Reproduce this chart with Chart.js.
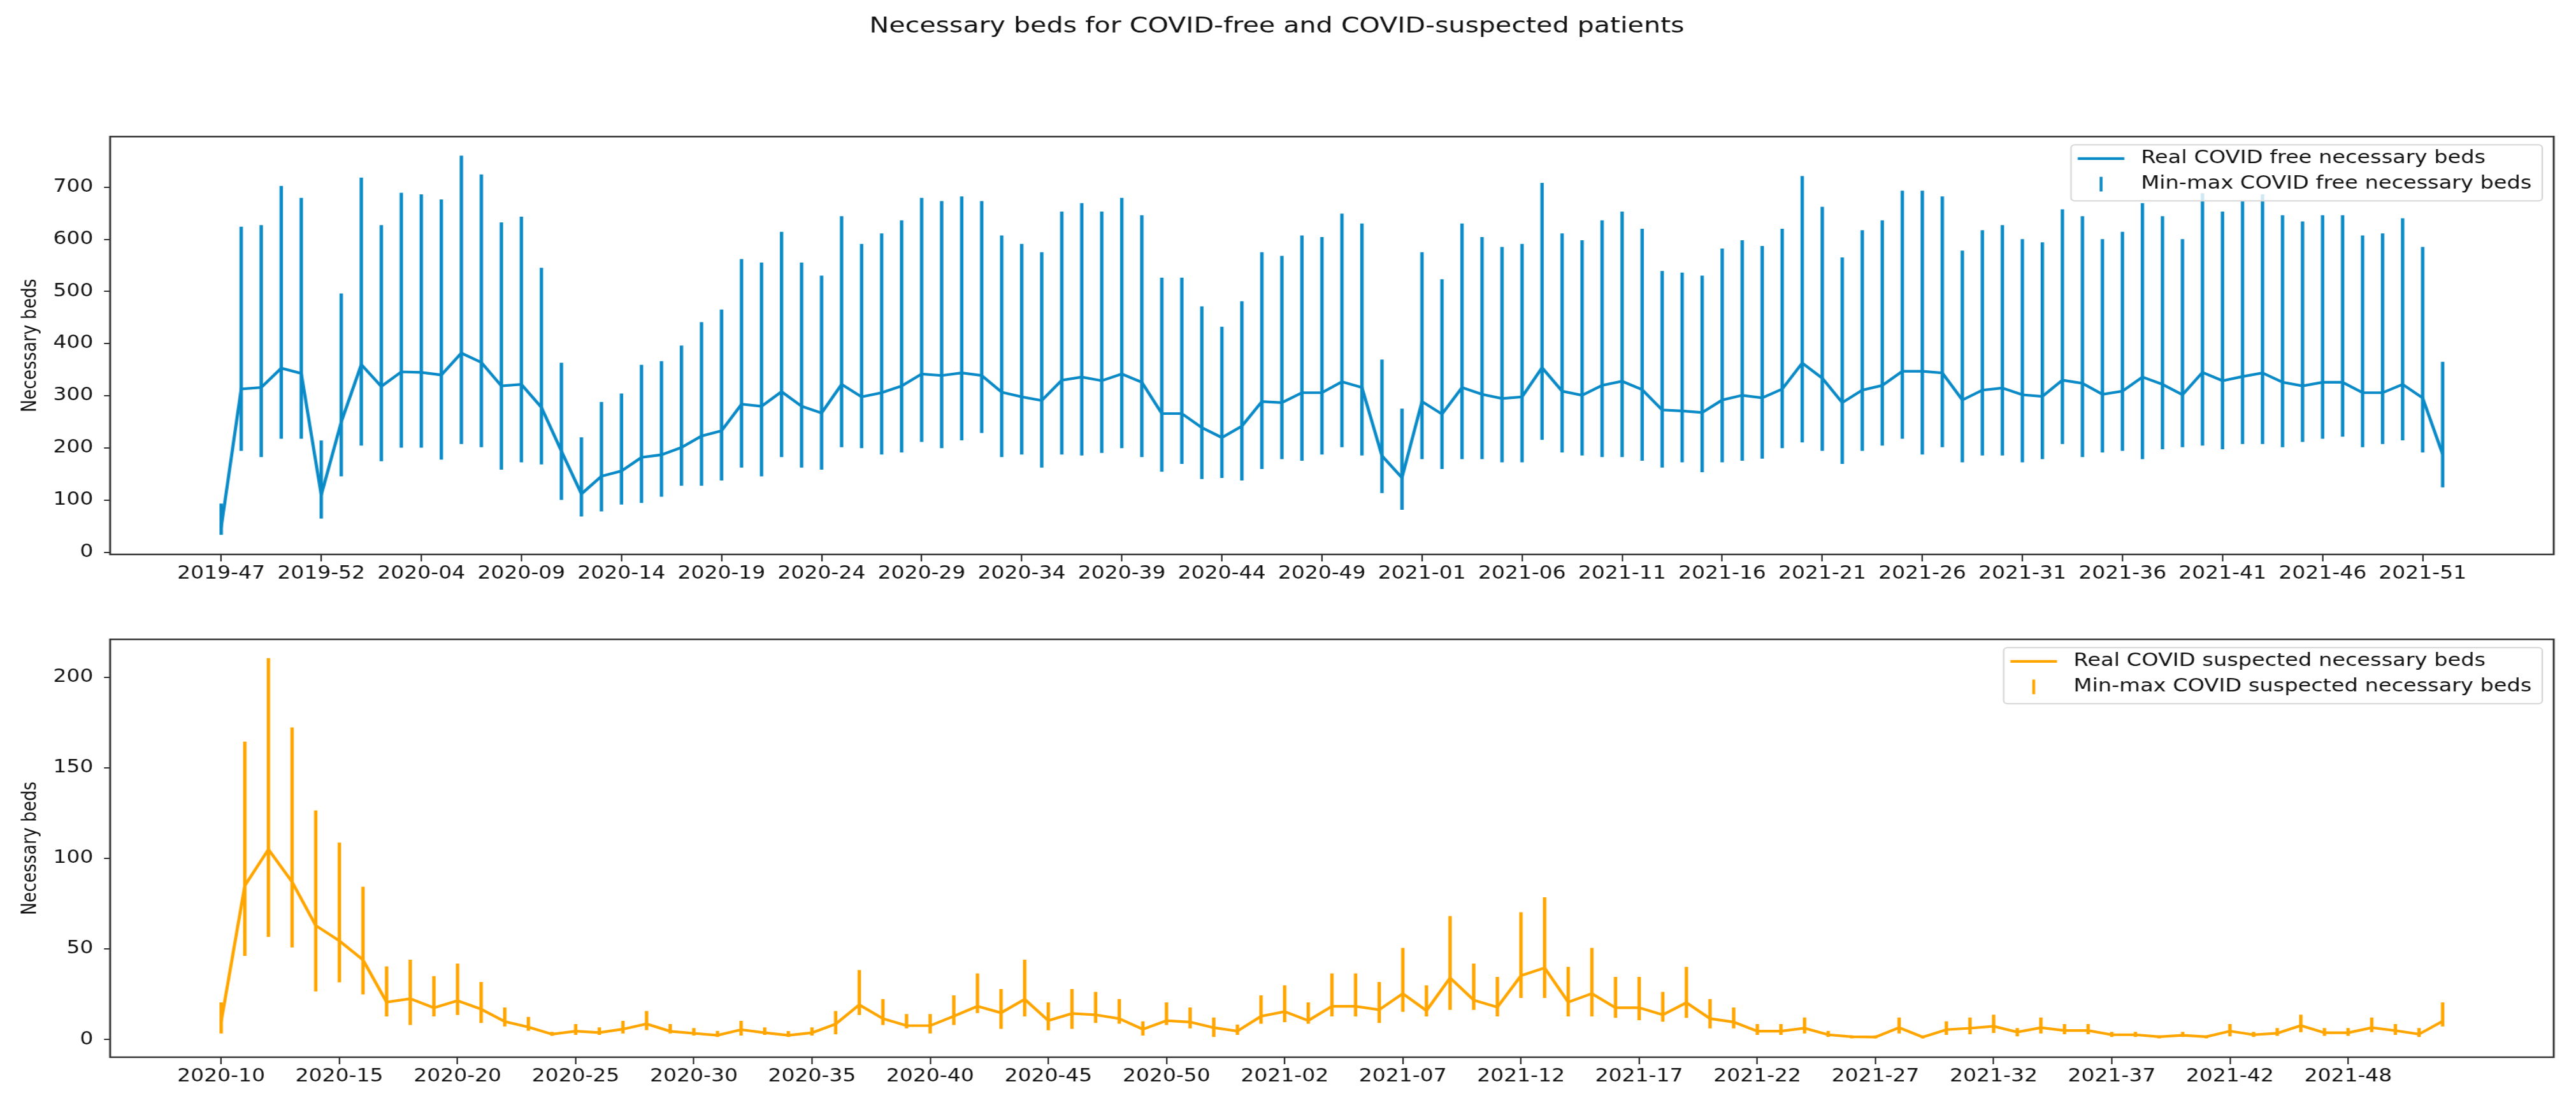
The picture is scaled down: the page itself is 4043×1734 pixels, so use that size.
<!DOCTYPE html>
<html>
<head>
<meta charset="utf-8">
<script src="https://cdn.jsdelivr.net/npm/chart.js@4.4.1/dist/chart.umd.min.js"></script>
<style>
  html, body { margin: 0; padding: 0; background: #fff; overflow: hidden; }
  /* the reference is a little wider than tall, so draw narrow and stretch */
  canvas { position: absolute; left: 0; transform: scaleX(1.2); transform-origin: 0 0; }
  #topChart { top: 0; }
  #bottomChart { top: 940px; }
</style>
</head>
<body>
<canvas id="topChart" width="3369" height="940"></canvas>
<canvas id="bottomChart" width="3369" height="794"></canvas>
<script>
// tick labels (one every 5 weeks)
const topTickLabels = ['2019-47', '2019-52', '2020-04', '2020-09', '2020-14', '2020-19', '2020-24', '2020-29',
    '2020-34', '2020-39', '2020-44', '2020-49', '2021-01', '2021-06', '2021-11', '2021-16', '2021-21',
    '2021-26', '2021-31', '2021-36', '2021-41', '2021-46', '2021-51'];
const bottomTickLabels = ['2020-10', '2020-15', '2020-20', '2020-25', '2020-30', '2020-35', '2020-40', '2020-45',
    '2020-50', '2021-02', '2021-07', '2021-12', '2021-17', '2021-22', '2021-27', '2021-32', '2021-37',
    '2021-42', '2021-48'];
const topYTicks = [0, 100, 200, 300, 400, 500, 600, 700];
const bottomYTicks = [0, 50, 100, 150, 200];

// COVID free beds, weekly
const freeReal = [48, 313, 316, 353, 343, 110, 250, 360, 318, 346, 345, 340, 382, 364, 319, 322, 278, 194, 112, 146,
    156, 182, 187, 201, 223, 233, 284, 280, 308, 280, 267, 322, 298, 306, 319, 342, 339, 344, 339, 307,
    298, 291, 330, 336, 329, 342, 326, 266, 266, 239, 220, 242, 289, 287, 306, 306, 327, 316, 185, 143,
    289, 265, 316, 303, 295, 298, 354, 309, 301, 320, 328, 312, 273, 271, 268, 292, 301, 296, 313, 363,
    334, 287, 311, 320, 347, 347, 344, 292, 311, 315, 302, 299, 330, 324, 303, 309, 336, 322, 302, 345,
    329, 337, 344, 326, 319, 326, 326, 306, 306, 322, 296, 188];
const freeMin = [34, 195, 183, 218, 218, 65, 146, 205, 175, 201, 201, 178, 208, 202, 159, 173, 169, 101, 69, 79,
    92, 95, 107, 128, 128, 138, 163, 146, 183, 163, 159, 202, 200, 188, 192, 212, 200, 215, 229, 183,
    188, 163, 188, 186, 191, 200, 183, 155, 170, 141, 143, 138, 160, 179, 176, 188, 202, 186, 114, 82,
    179, 160, 179, 179, 173, 173, 216, 192, 186, 183, 183, 176, 163, 173, 154, 173, 176, 180, 200, 211,
    195, 170, 195, 205, 218, 188, 202, 173, 186, 186, 173, 179, 208, 183, 192, 195, 179, 198, 202, 205,
    198, 208, 208, 202, 212, 218, 222, 202, 208, 215, 192, 125];
const freeMax = [93, 624, 627, 702, 679, 214, 496, 718, 627, 689, 686, 676, 760, 724, 632, 643, 545, 363, 220, 288,
    304, 359, 366, 396, 441, 465, 562, 555, 614, 555, 530, 644, 591, 611, 636, 679, 673, 682, 673, 607,
    591, 575, 653, 669, 653, 679, 646, 526, 526, 471, 432, 481, 575, 568, 607, 604, 649, 630, 369, 275,
    575, 523, 630, 604, 585, 591, 708, 611, 598, 636, 653, 620, 539, 536, 530, 582, 598, 587, 620, 721,
    662, 565, 617, 636, 693, 693, 682, 578, 617, 627, 600, 594, 657, 644, 600, 614, 669, 644, 600, 688,
    653, 673, 686, 646, 634, 646, 646, 607, 611, 640, 585, 365];

// COVID suspected beds, weekly
const suspReal = [10, 85, 105, 87, 63, 54.5, 44, 20.7, 22.6, 17.6, 21.5, 16.8, 10, 6.9, 3, 4.7, 3.9, 5.8, 8.7, 4.6,
    3.5, 2.4, 5.5, 3.8, 2.4, 3.8, 8.6, 19.2, 11.6, 7.7, 7.7, 12.9, 18.4, 14.8, 22.3, 10.5, 14.4, 13.7, 11.6, 5.7,
    10.5, 9.7, 6.6, 4.7, 12.9, 15.5, 10.5, 18.4, 18.4, 16.5, 25.4, 16, 34.1, 21.8, 17.9, 35.3, 39.6, 20.7, 25.4, 17.6,
    17.6, 13.7, 20.4, 11.6, 9.7, 4.7, 4.7, 6.3, 2.7, 1.6, 1.4, 6.6, 1.4, 5.5, 6.3, 7.4, 4.2, 6.6, 5, 5,
    2.7, 2.7, 1.6, 2.4, 1.6, 4.7, 2.7, 3.5, 7.8, 3.8, 3.8, 6.6, 5, 3, 10.2];
const suspMin = [3.5, 46.3, 56.8, 51, 26.7, 31.7, 25.1, 12.9, 8.2, 12.9, 13.7, 9.3, 7.4, 5, 2.2, 2.7, 2.7, 3.5, 5.4, 3.5,
    2.4, 1.6, 2.4, 2.7, 1.6, 2.4, 3.1, 13.7, 8.2, 6.3, 3.5, 8.2, 14.8, 6.1, 12.9, 5.3, 6.1, 9.3, 8.9, 2.4,
    8.2, 6.3, 1.6, 2.7, 8.9, 9.8, 8.9, 12.9, 12.9, 9.3, 15.5, 12.9, 16.5, 16.5, 12.9, 23.1, 23.1, 12.9, 12.9, 12.1,
    10.8, 10, 12.1, 6.3, 6.3, 2.7, 2.7, 3.5, 1.6, 0.8, 0.8, 3.5, 0.8, 2.7, 3.1, 3.8, 1.9, 3.5, 3.1, 3.1,
    1.6, 1.6, 0.8, 1.6, 0.8, 1.9, 1.6, 2.2, 4.2, 2.2, 2.2, 4.2, 2.7, 1.6, 7.4];
const suspMax = [20.4, 164.4, 210.4, 172.2, 126.4, 108.6, 84.3, 40.3, 44, 34.9, 41.9, 31.7, 17.6, 12.4, 4.2, 8.5, 6.6, 10.2, 15.7, 8.5,
    6.3, 4.7, 10.2, 6.6, 4.6, 6.6, 15.7, 38.3, 22.3, 14, 14, 24.3, 36.4, 27.8, 44, 20.4, 27.8, 26.2, 22.3, 10,
    20.4, 17.6, 12.1, 8.2, 24.3, 29.8, 20.4, 36.4, 36.4, 31.7, 50.5, 29.8, 68.1, 41.9, 34.5, 70.2, 78.5, 40, 50.5, 34.5,
    34.5, 26.2, 40, 22.3, 17.6, 8.5, 8.5, 12.1, 4.7, 2.2, 2.2, 12.1, 2.2, 10, 12.1, 13.7, 6.3, 12.1, 8.5, 8.5,
    4.2, 4.2, 2.2, 4.2, 2.2, 8.5, 4.2, 6.3, 13.7, 6.3, 6.3, 12.1, 8.5, 6.3, 20.4];

const BLUE = '#0a8ac6';
const ORANGE = '#ffa500';
const FONT = '"DejaVu Sans", sans-serif';
const TEXT = '#111';

// box around the axes, like matplotlib spines
const framePlugin = {
    id: 'frame',
    afterDatasetsDraw(chart) {
        const { ctx, chartArea: a } = chart;
        ctx.save();
        ctx.strokeStyle = '#333';
        ctx.lineWidth = 2.5;
        ctx.strokeRect(a.left, a.top, a.right - a.left, a.bottom - a.top);
        ctx.restore();
    }
};

// legend inside the axes, drawn over the data
const boxLegend = {
    id: 'boxLegend',
    afterDraw(chart, args, opts) {
        const { ctx, chartArea: a } = chart;
        ctx.save();
        ctx.font = '28px ' + FONT;
        const textW = Math.max(...opts.items.map(it => ctx.measureText(it.text).width));
        const w = 8.8 + 61 + 21.7 + textW + 13.8;
        const h = 88;
        const x = a.right - 15 - w;
        const y = a.top + 13;
        ctx.fillStyle = 'rgba(255,255,255,0.8)';
        ctx.strokeStyle = '#d6d6d6';
        ctx.lineWidth = 2;
        ctx.beginPath();
        ctx.roundRect(x, y, w, h, 5);
        ctx.fill();
        ctx.stroke();
        opts.items.forEach((it, k) => {
            const cy = y + 21.6 + k * 40;
            ctx.strokeStyle = it.color;
            ctx.lineWidth = 4.2;
            ctx.beginPath();
            if (it.kind === 'line') {
                ctx.moveTo(x + 8.8, cy);
                ctx.lineTo(x + 69.8, cy);
            } else {
                ctx.lineWidth = 3.8;
                ctx.moveTo(x + 39.3, cy - 11.5);
                ctx.lineTo(x + 39.3, cy + 11.5);
            }
            ctx.stroke();
            ctx.fillStyle = TEXT;
            ctx.textBaseline = 'middle';
            ctx.fillText(it.text, x + 91.5, cy);
        });
        ctx.restore();
    }
};

function buildChart(id, o) {
    const n = o.real.length - 1;
    return new Chart(document.getElementById(id), {
        type: 'bar',
        data: {
            datasets: [
                {
                    type: 'line',
                    data: o.real.map((v, i) => ({ x: i, y: v })),
                    borderColor: o.color,
                    borderWidth: 4.2,
                    pointRadius: 0,
                    tension: 0,
                    order: 1
                },
                {
                    type: 'bar',
                    data: o.min.map((v, i) => ({ x: i, y: [v, o.max[i]] })),
                    backgroundColor: o.color,
                    barThickness: 3.8,
                    order: 2
                }
            ]
        },
        options: {
            responsive: false,
            animation: false,
            devicePixelRatio: 1,
            layout: { padding: { left: 0, right: 29, top: o.padTop, bottom: 0 } },
            plugins: {
                legend: { display: false },
                tooltip: { enabled: false },
                title: o.title ? {
                    display: true,
                    text: o.title,
                    color: TEXT,
                    font: { family: FONT, size: 34.3, weight: 'normal' },
                    padding: { top: 21.5, bottom: 151.7 }
                } : { display: false },
                boxLegend: { items: o.legend }
            },
            scales: {
                x: {
                    type: 'linear',
                    offset: false,
                    min: -0.05 * n,
                    max: 1.05 * n,
                    afterBuildTicks: s => { s.ticks = o.xTicks.map((t, k) => ({ value: k * 5 })); },
                    afterFit: s => { s.height = o.xAxisH; },
                    ticks: {
                        callback: v => o.xTicks[Math.round(v / 5)],
                        color: TEXT,
                        font: { family: FONT, size: 27.5 },
                        maxRotation: 0,
                        autoSkip: false,
                        padding: 3
                    },
                    grid: { offset: false, drawOnChartArea: false, drawTicks: true, tickLength: 11, color: '#333', lineWidth: 2 },
                    border: { display: false }
                },
                y: {
                    min: o.yMin,
                    max: o.yMax,
                    afterBuildTicks: s => { s.ticks = o.yTicks.map(v => ({ value: v })); },
                    afterFit: s => { s.width = 144; },
                    ticks: { color: TEXT, font: { family: FONT, size: 27.5 }, padding: 14 },
                    grid: { drawOnChartArea: false, drawTicks: true, tickLength: 8, color: '#333', lineWidth: 2 },
                    border: { display: false },
                    title: {
                        display: true,
                        text: 'Necessary beds',
                        color: TEXT,
                        font: { family: FONT, size: 26.5 },
                        padding: { top: 24.5, bottom: 0 }
                    }
                }
            }
        },
        plugins: [framePlugin, boxLegend]
    });
}

buildChart('topChart', {
    real: freeReal, min: freeMin, max: freeMax, color: BLUE,
    xTicks: topTickLabels, yTicks: topYTicks, yMin: -4, yMax: 797,
    padTop: 0, xAxisH: 70,
    title: 'Necessary beds for COVID-free and COVID-suspected patients',
    legend: [
        { text: 'Real COVID free necessary beds', kind: 'line', color: BLUE },
        { text: 'Min-max COVID free necessary beds', kind: 'bar', color: BLUE }
    ]
});

buildChart('bottomChart', {
    real: suspReal, min: suspMin, max: suspMax, color: ORANGE,
    xTicks: bottomTickLabels, yTicks: bottomYTicks, yMin: -9.7, yMax: 220.9,
    padTop: 63.3, xAxisH: 75,
    title: null,
    legend: [
        { text: 'Real COVID suspected necessary beds', kind: 'line', color: ORANGE },
        { text: 'Min-max COVID suspected necessary beds', kind: 'bar', color: ORANGE }
    ]
});
</script>
</body>
</html>
